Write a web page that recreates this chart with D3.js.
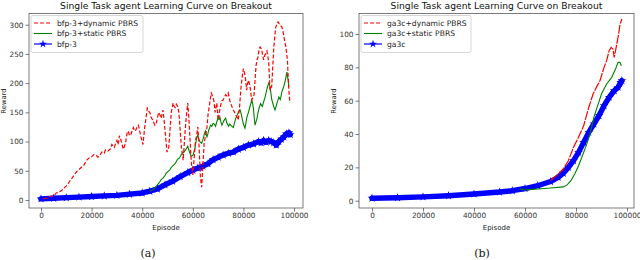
<!DOCTYPE html>
<meta charset="utf-8">
<style>
    body { margin: 0; background: #fff; }
    svg { display: block; }
</style>
<svg width="640" height="260"></svg>
<script src="https://d3js.org/d3.v7.min.js"></script>
<script>

    // episodes on x, reward on y
    var xTicks = [0, 20000, 40000, 60000, 80000, 100000];
    var yTicksA = [0, 50, 100, 150, 200, 250, 300];
    var yTicksB = [0, 20, 40, 60, 80, 100];

    var namesA = ["bfp-3+dynamic PBRS", "bfp-3+static PBRS", "bfp-3"];
    var namesB = ["ga3c+dynamic PBRS", "ga3c+static PBRS", "ga3c"];

    var dynamicA = [[1000,2],[2000,3],[3000,4],[3500,6],[4500,7],[5500,9],[6000,12],[7000,13],[8000,16],
        [8700,18],[9500,22],[10500,26],[11000,30],[12000,36],[13000,42],[14000,48],[15000,52],[16000,56],
        [17000,60],[18000,68],[19000,72],[20000,74],[21000,78],[22000,76],[22500,73],[23500,78],[24000,82],
        [25000,80],[25500,86],[26500,84],[27500,88],[28000,95],[29000,90],[29500,97],[30000,102],[30500,95],
        [31000,110],[31500,104],[32000,96],[32500,87],[33000,92],[33500,100],[34000,114],[34500,118],
        [35000,110],[35500,112],[36000,118],[36500,124],[37000,118],[37500,120],[38000,126],[38500,128],
        [39000,118],[39500,108],[40300,95],[41000,125],[41500,140],[42000,157],[42500,152],[43000,150],
        [43500,142],[44000,138],[45000,128],[45500,130],[46000,140],[46500,150],[47000,146],[47500,140],
        [48200,154],[48600,140],[49000,120],[49800,82],[50500,90],[51000,120],[51500,150],[52200,166],
        [52600,160],[53000,158],[53500,164],[54000,160],[54500,150],[55000,120],[55500,90],[56200,68],
        [57000,120],[57500,145],[58000,166],[58300,150],[58700,120],[59200,80],[59500,60],[60000,43],
        [60700,80],[61000,100],[61500,110],[62000,125],[62500,90],[63000,40],[63500,22],[64000,60],
        [64500,97],[65000,110],[65500,120],[66000,145],[66500,160],[67000,175],[67300,183],[68000,176],
        [68400,168],[68800,150],[69500,166],[70000,137],[70500,150],[71000,162],[71500,170],[72000,171],
        [72500,176],[73000,180],[73500,178],[74000,183],[74500,172],[75000,165],[76000,154],[76500,150],
        [77000,145],[77500,142],[78000,137],[78500,160],[79000,190],[79500,210],[80000,225],[80700,212],
        [81000,200],[81300,188],[81700,200],[82000,205],[82600,196],[83000,180],[83300,171],[83800,176],
        [84200,180],[84600,205],[85000,230],[85400,240],[85800,245],[86200,258],[86600,262],[87200,258],
        [87600,248],[88000,240],[88500,248],[89000,252],[89300,255],[89700,245],[90000,235],[90300,210],
        [90500,188],[91200,195],[91600,228],[92000,260],[92400,280],[92800,296],[93200,300],[93700,305],
        [94100,302],[94500,300],[95200,296],[95600,290],[96000,280],[96400,270],[96800,262],[97100,250],
        [97400,240],[97800,200],[98100,180],[98400,166]];

    var staticA = [[43000,15],[44000,17],[44500,18],[45300,22],[46000,26],[46800,30],[47500,35],[48300,38],
        [49000,42],[49500,46],[50000,48],[50500,50],[51000,52],[51500,56],[52000,58],[52500,60],[53000,62],
        [53500,66],[54000,70],[54500,71],[55000,74],[55500,78],[56000,80],[56500,82],[57000,85],[57500,88],
        [58000,92],[58300,88],[58700,82],[59300,75],[60000,76],[60400,82],[60800,88],[61200,98],[61500,105],
        [62000,111],[62400,104],[62800,100],[63500,97],[63900,102],[64300,108],[64600,114],[65000,118],
        [65300,112],[65600,108],[66000,114],[66300,120],[66700,124],[67000,128],[67500,126],[68000,131],
        [68500,130],[69000,126],[69500,134],[70000,140],[70400,138],[70700,142],[71100,134],[71500,128],
        [71900,132],[72200,135],[72600,138],[73000,140],[73400,132],[73800,129],[74200,126],[74600,130],
        [75000,128],[75500,126],[76000,124],[76500,132],[77000,140],[77400,144],[77800,148],[78200,152],
        [78700,154],[79100,148],[79500,140],[80000,130],[80600,123],[81000,132],[81300,140],[81700,146],
        [82000,150],[82600,160],[83300,171],[83700,164],[84000,155],[84300,140],[84600,128],[85000,134],
        [85400,140],[85700,148],[86000,154],[86400,160],[86800,165],[87200,162],[87500,160],[88000,168],
        [88500,175],[88900,182],[89300,190],[89700,196],[90000,200],[90500,195],[90900,182],[91200,172],
        [91600,166],[92000,160],[92500,154],[92900,160],[93200,165],[93600,170],[94000,176],[94300,174],
        [94600,172],[94900,178],[95200,185],[95600,190],[96000,195],[96300,200],[96600,205],[96900,212],
        [97200,219],[97500,210],[97700,205],[98000,194]];

    var baseA = [[0,2],[5000,3],[10000,4],[15000,5],[20000,6],[25000,7],[30000,8],[35000,10],[40000,12],
        [43000,15],[46000,19],[49000,26],[52000,32],[55000,40],[58000,47],[60000,51],[62000,55],[63000,55],
        [64000,58],[66000,62],[68000,69],[70000,73],[72000,77],[74000,80],[76000,82],[78000,87],[80000,90],
        [82000,94],[84000,96],[86000,100],[87000,98],[88000,102],[89000,99],[90000,102],[91000,100],
        [92000,98],[93000,94],[94000,100],[95000,104],[96000,108],[97000,113],[98000,115],[98500,112]];

    var dynamicB = [[70000,12],[73000,16],[75000,19],[77000,24],[79000,32],[81000,38],[83000,45],
        [85000,56],[86700,64],[88000,68],[89400,72],[91000,80],[92000,84],[93000,90],[93800,92],
        [94500,91],[95000,86],[95500,90],[96000,94],[96600,99],[97300,106],[98000,109]];

    var staticB = [[58000,7],[60000,6.5],[65000,7],[70000,7.6],[75000,8.3],[76500,9.5],[78000,12],
        [79500,16],[81000,21],[82500,27],[84000,33],[85500,40],[87000,50],[88500,57],[90000,64],
        [92000,70],[94000,74],[95500,79],[96500,83],[97200,83],[97800,81]];

    var baseB = [[0,1.5],[10000,1.8],[20000,2.3],[30000,3],[40000,4],[50000,5.2],[55000,6],[60000,7.3],
        [65000,9],[70000,11.5],[73000,14],[75000,16.5],[77000,20],[79000,24],[81000,29],[83000,35],
        [85000,41],[87000,46],[89000,51],[91000,57],[93000,62],[95000,66],[96500,68],[97500,71],[98000,72]];

    var FONT = "DejaVu Sans";
    var svg = d3.select("svg");
    var star = d3.symbol().type(d3.symbolStar).size(24);

    function panel(opt) {
        var g = svg.append("g");
        var x = d3.scaleLinear().domain([0, 100000]).range(opt.xr);
        var y = d3.scaleLinear().domain([0, opt.ymax]).range(opt.yr);
        var box = opt.box; // [left, top, right, bottom]

        function styleAxis(a) {
            a.select(".domain").remove();
            a.selectAll(".tick line").attr("stroke", "#444").attr("stroke-width", 0.7);
            a.selectAll(".tick text").style("font-family", FONT).style("font-size", "7.3px").attr("fill", "#333");
        }

        g.append("g")
            .attr("transform", "translate(0," + box[3] + ")")
            .call(d3.axisBottom(x).tickValues(xTicks).tickFormat(d3.format("d")).tickSize(3.5).tickPadding(1.5))
            .call(styleAxis);
        g.append("g")
            .attr("transform", "translate(" + box[0] + ",0)")
            .call(d3.axisLeft(y).tickValues(opt.yTicks).tickSize(3.5).tickPadding(2))
            .call(styleAxis);

        var line = d3.line().x(function (d) { return x(d[0]); }).y(function (d) { return y(d[1]); });

        var plot = g.append("g");
        plot.append("path").datum(opt.base).attr("d", line)
            .attr("fill", "none").attr("stroke", "#0000ff").attr("stroke-width", 5.4)
            .attr("stroke-linejoin", "round").attr("stroke-linecap", "round");
        plot.selectAll(".star").data(opt.base).enter().append("path")
            .attr("d", star).attr("fill", "#0000ff")
            .attr("transform", function (d) { return "translate(" + x(d[0]) + "," + y(d[1]) + ")"; });
        plot.append("path").datum(opt.stat).attr("d", line)
            .attr("fill", "none").attr("stroke", "#008000").attr("stroke-width", 1.1);
        plot.append("path").datum(opt.dyn).attr("d", line)
            .attr("fill", "none").attr("stroke", "#ff0000").attr("stroke-width", 1.2)
            .attr("stroke-dasharray", opt.dash);

        g.append("rect")
            .attr("x", box[0]).attr("y", box[1])
            .attr("width", box[2] - box[0]).attr("height", box[3] - box[1])
            .attr("fill", "none").attr("stroke", "#444").attr("stroke-width", 0.7);

        var cx = (box[0] + box[2]) / 2;
        g.append("text").attr("x", cx).attr("y", 8.5)
            .attr("text-anchor", "middle").attr("fill", "#111")
            .style("font-family", FONT).style("font-size", "9.2px")
            .text("Single Task agent Learning Curve on Breakout");
        g.append("text").attr("x", cx).attr("y", 229.5)
            .attr("text-anchor", "middle").attr("fill", "#222")
            .style("font-family", FONT).style("font-size", "7px")
            .text("Episode");
        g.append("text")
            .attr("transform", "translate(" + (box[0] - 23) + ",101) rotate(-90)")
            .attr("text-anchor", "middle").attr("fill", "#222")
            .style("font-family", FONT).style("font-size", "6.8px")
            .text("Reward");
        g.append("text").attr("x", opt.capX).attr("y", 257)
            .attr("text-anchor", "middle").attr("fill", "#111")
            .style("font-family", "DejaVu Serif").style("font-size", "11px")
            .text(opt.caption);

        // legend
        var lg = g.append("g");
        var lx = box[0] + 2;
        lg.append("rect").attr("x", lx).attr("y", 15.5).attr("width", opt.legW).attr("height", 37)
            .attr("rx", 2).attr("fill", "#fff").attr("fill-opacity", 0.8)
            .attr("stroke", "#ccc").attr("stroke-width", 0.8);
        var rows = [
            {name: opt.names[0], color: "#ff0000", dash: "4,2", w: 1.2},
            {name: opt.names[1], color: "#008000", dash: null, w: 1.1},
            {name: opt.names[2], color: "#0000ff", dash: null, w: 1.2}
        ];
        rows.forEach(function (r, i) {
            var yy = 23 + i * 10.5;
            lg.append("line").attr("x1", lx + 3).attr("x2", lx + 21).attr("y1", yy).attr("y2", yy)
                .attr("stroke", r.color).attr("stroke-width", r.w).attr("stroke-dasharray", r.dash);
            if (i === 2) {
                lg.append("path").attr("d", d3.symbol().type(d3.symbolStar).size(20))
                    .attr("fill", r.color).attr("transform", "translate(" + (lx + 12) + "," + yy + ")");
            }
            lg.append("text").attr("x", lx + 26).attr("y", yy + 2.7).attr("fill", "#222")
                .style("font-family", FONT).style("font-size", "7.6px")
                .text(r.name);
        });
    }

    panel({
        xr: [41, 294], yr: [200, 24.7], ymax: 300, yTicks: yTicksA, box: [29, 13.5, 303, 208],
        base: baseA, stat: staticA, dyn: dynamicA, dash: "4,2", names: namesA,
        legW: 112, caption: "(a)", capX: 148
    });
    panel({
        xr: [372, 627], yr: [200.7, 34], ymax: 100, yTicks: yTicksB, box: [359, 13.5, 634, 208],
        base: baseB, stat: staticB, dyn: dynamicB, dash: "9,1.2", names: namesB,
        legW: 110, caption: "(b)", capX: 482
    });
</script>
